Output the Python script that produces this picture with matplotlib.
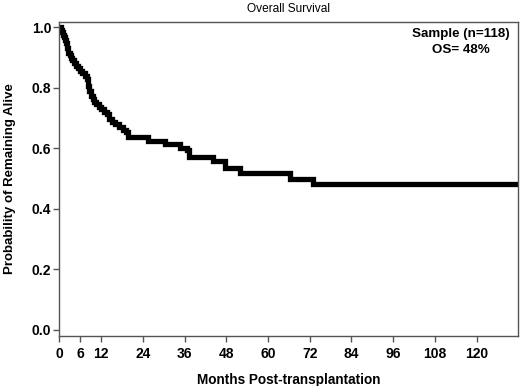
import matplotlib
matplotlib.use("Agg")
import matplotlib.pyplot as plt

# Kaplan-Meier step data (months, survival probability)
months = [0, 0.3, 0.6, 0.9, 1.2, 1.5, 1.8, 2.1, 2.5, 2.9, 3.3, 3.7, 4.2, 4.7, 5.2, 5.8,
          6.5, 7.2, 7.8, 8.2, 8.6, 9.0, 9.5, 10.0, 10.6, 11.3, 12.0, 12.8, 13.6, 14.2,
          15.0, 16.0, 17.0, 18.2, 19.2, 19.8, 25.4, 30.4, 34.7, 36.7, 37.3, 44.3, 47.7,
          51.9, 66.2, 72.9, 132]
survival = [1.0, 0.992, 0.983, 0.975, 0.966, 0.958, 0.949, 0.932, 0.915, 0.907, 0.898,
            0.89, 0.881, 0.873, 0.864, 0.856, 0.847, 0.839, 0.83, 0.805, 0.788, 0.771,
            0.763, 0.754, 0.746, 0.737, 0.729, 0.72, 0.712, 0.695, 0.686, 0.678, 0.669,
            0.661, 0.652, 0.636, 0.625, 0.613, 0.600, 0.594, 0.572, 0.558, 0.534,
            0.517, 0.497, 0.481, 0.481]

x_ticks = [0, 6, 12, 24, 36, 48, 60, 72, 84, 96, 108, 120]
y_ticks = [0.0, 0.2, 0.4, 0.6, 0.8, 1.0]
y_tick_labels = ["0.0", "0.2", "0.4", "0.6", "0.8", "1.0"]

plt.rcParams['font.family'] = ['Liberation Sans', 'DejaVu Sans']

fig = plt.figure(figsize=(5.2, 3.86), dpi=100)
ax = fig.add_axes([0.1144, 0.1303, 0.8823, 0.8135])

ax.step(months, survival, where='post', color='black', lw=3.8, solid_joinstyle='miter')

ax.set_xlim(0, 132)
ax.set_ylim(-0.0205, 1.018)
ax.set_xticks(x_ticks)
ax.set_xticklabels([str(t) for t in x_ticks], fontweight='bold', fontsize=10)
ax.set_yticks(y_ticks)
ax.set_yticklabels(y_tick_labels, fontweight='bold', fontsize=10)
ax.tick_params(axis='both', direction='out', length=4, width=1, color='#555555')
ax.tick_params(axis='x', pad=4)
ax.tick_params(axis='y', pad=2)

for s in ax.spines.values():
    s.set_color('#555555')
    s.set_linewidth(1)

ax.set_xlabel("Months Post-transplantation", fontweight='bold', fontsize=9.8, labelpad=9)
ax.set_ylabel("Probability of Remaining Alive", fontweight='bold', fontsize=9.5, labelpad=11)
ax.set_title("Overall Survival", fontsize=8.6, pad=7)

ax.text(0.875, 0.98, "Sample (n=118)\nOS= 48%", transform=ax.transAxes,
        ha='center', va='top', fontweight='bold', fontsize=9.6, linespacing=1.4)

fig.savefig("out.png", dpi=100)
